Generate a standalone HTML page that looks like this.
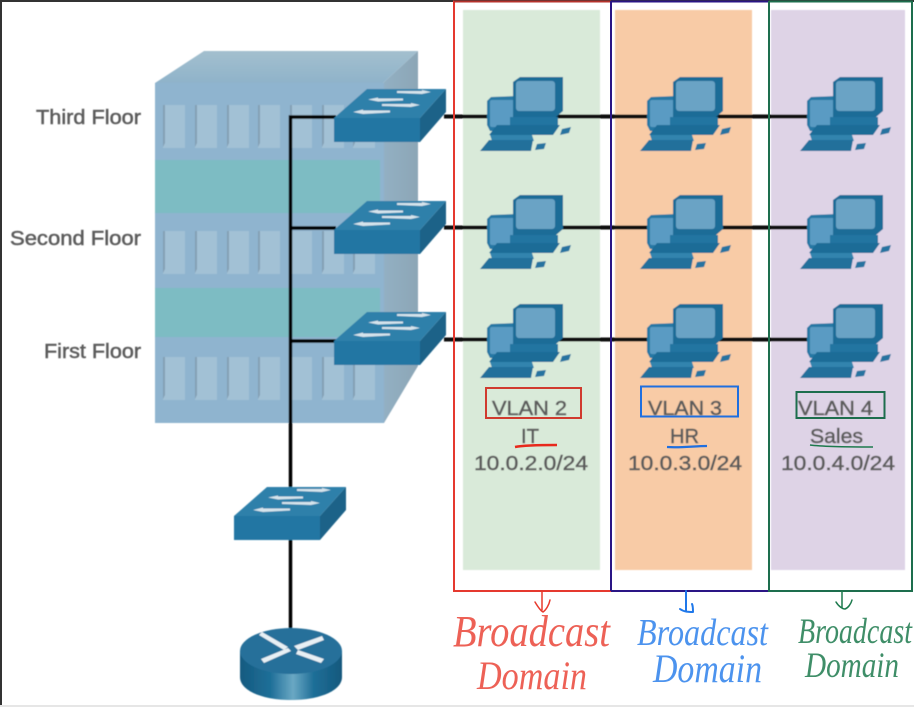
<!DOCTYPE html>
<html><head><meta charset="utf-8"><style>
html,body{margin:0;padding:0;background:#fff}
svg{display:block}
text{font-family:"Liberation Sans",sans-serif}
.hw{font-family:"Liberation Serif",serif;font-style:italic}
</style></head><body>
<svg width="914" height="707" viewBox="0 0 914 707" xmlns="http://www.w3.org/2000/svg">
<defs>
<filter id="b" x="-5%" y="-5%" width="110%" height="110%"><feGaussianBlur stdDeviation="0.6"/></filter>
<linearGradient id="top" x1="0" y1="0" x2="0" y2="1"><stop offset="0" stop-color="#a3bfce"/><stop offset="1" stop-color="#8fb3ca"/></linearGradient>
<linearGradient id="side" x1="0" y1="0" x2="1" y2="0"><stop offset="0" stop-color="#93b0c3"/><stop offset="1" stop-color="#8ca6b6"/></linearGradient>
<linearGradient id="rt" x1="0" y1="0" x2="1" y2="0"><stop offset="0" stop-color="#155a80"/><stop offset=".3" stop-color="#1f6f98"/><stop offset=".52" stop-color="#6aa8c4"/><stop offset=".72" stop-color="#1f6f98"/><stop offset="1" stop-color="#14587d"/></linearGradient>
<g id="win"><rect x="0" y="0" width="22" height="43" fill="#a2c1d5"/><polygon points="0,0 2,0 2,38 0,42" fill="#84a0b5"/></g>
<g id="row">
<use href="#win" x="163"/><use href="#win" x="195"/><use href="#win" x="227"/><use href="#win" x="258"/><use href="#win" x="290"/><use href="#win" x="322"/><use href="#win" x="353"/>
</g>
<g id="sw">
<polygon points="334,118 367,89 446,89 420,118" fill="#2f80aa"/>
<polygon points="420,118 446,89 446,112 420,142" fill="#1b6288"/>
<rect x="334" y="118" width="86" height="24" fill="#2176a3"/>
<g fill="#d6e4ec">
<polygon points="397,91 422,91 422,90 431,92 422,94 397,93"/>
<polygon points="403,98.500 378,98.500 378,97.500 368,99.500 378,101.500 403,100.500"/>
<polygon points="382,104 411,104 411,103 420,105 411,107 382,106"/>
<polygon points="390,110.500 363,110.500 363,109.500 353,112 363,114 390,112.500"/>
</g>
</g>
<g id="pc">
<polygon points="487,328 491,324 518,323 518,358 490,358 487,352" fill="#2878a4"/>
<rect x="490" y="327" width="26" height="27" rx="2" fill="#5a9bc3"/>
<polygon points="513,309 520,304 563,304 563,338 556,344 513,344" fill="#1c6c97"/>
<rect x="516" y="308" width="39" height="30" rx="3" fill="#6ba3c5"/>
<polygon points="510,344 558,344 558,352 510,352" fill="#2475a1"/>
<polygon points="497,352 560,352 553,362 489,362" fill="#1c6c97"/>
<polygon points="490,362 532,362 534,368 492,368" fill="#3384ae"/>
<polygon points="489,367 533,367 531,378 480,378" fill="#246f9b"/>
<polygon points="537,371 546,370 544,376 535,377" fill="#2573a0"/>
<polygon points="562,356 571,354 569,360 560,362" fill="#2573a0"/>
</g>
</defs>
<rect width="914" height="707" fill="#fff"/>
<g filter="url(#b)">
<!-- panels -->
<rect x="463" y="10" width="137" height="560" fill="#d9ead9"/>
<rect x="615" y="10" width="137" height="560" fill="#f8cba6"/>
<rect x="771" y="10" width="134" height="560" fill="#ded3e6"/>
<!-- building -->
<polygon points="155,83 204,51 418,51 383,83" fill="url(#top)"/>
<polygon points="383,83 418,51 418,366 384,423" fill="url(#side)"/>
<rect x="155" y="83" width="229" height="340" fill="#8fb4cf"/>
<rect x="155" y="160" width="225" height="53" fill="#7dbcc3"/>
<rect x="155" y="288" width="225" height="49" fill="#7dbcc3"/>
<use href="#row" y="105"/>
<use href="#row" y="231"/>
<use href="#row" y="357"/>
<!-- cables -->
<g stroke="#050505" stroke-width="3.500" fill="none">
<path d="M290.500 628V117H336"/>
<path d="M290 228H336"/>
<path d="M290 341H336"/>
</g>
<g stroke="#0d0d0d" stroke-width="4" fill="none">
<path d="M444 116.500H810"/>
<path d="M444 227.500H810"/>
<path d="M444 339.500H810"/>
</g>
<!-- switches -->
<use href="#sw"/>
<use href="#sw" y="112"/>
<use href="#sw" y="223"/>
<use href="#sw" x="-100" y="398"/>
<!-- router -->
<path d="M240 651V677C240 691 263 700 291 700C319 700 342 691 342 677V651Z" fill="url(#rt)"/>
<ellipse cx="291" cy="651" rx="51" ry="23" fill="#26709a"/>
<g fill="#e8f0f4">
<polygon points="259,635 262,632 288,647 284,650"/>
<polygon points="322,636 324,640 298,650 294,646"/>
<polygon points="261,659 288,648 291,651 264,663"/>
<polygon points="324,659 321,663 296,654 298,650"/>
</g>
<!-- PCs -->
<use href="#pc" y="-227"/><use href="#pc" x="160" y="-227"/><use href="#pc" x="320" y="-227"/>
<use href="#pc" y="-109"/><use href="#pc" x="160" y="-109"/><use href="#pc" x="320" y="-109"/>
<use href="#pc"/><use href="#pc" x="160"/><use href="#pc" x="320"/>
<!-- labels -->
<g fill="#5c5c5c" stroke="#5c5c5c" stroke-width="0.500" font-size="20">
<text x="36" y="124" textLength="105" lengthAdjust="spacingAndGlyphs">Third Floor</text>
<text x="10" y="245" textLength="131" lengthAdjust="spacingAndGlyphs">Second Floor</text>
<text x="44" y="358" textLength="97" lengthAdjust="spacingAndGlyphs">First Floor</text>
<text x="492" y="415" textLength="75" lengthAdjust="spacingAndGlyphs">VLAN 2</text>
<text x="648" y="415" textLength="74" lengthAdjust="spacingAndGlyphs">VLAN 3</text>
<text x="798" y="415" textLength="75" lengthAdjust="spacingAndGlyphs">VLAN 4</text>
<text x="521" y="443" textLength="18" lengthAdjust="spacingAndGlyphs">IT</text>
<text x="670" y="443" textLength="29" lengthAdjust="spacingAndGlyphs">HR</text>
<text x="810" y="443" textLength="53" lengthAdjust="spacingAndGlyphs">Sales</text>
<text x="474" y="470" textLength="114" lengthAdjust="spacingAndGlyphs">10.0.2.0/24</text>
<text x="628" y="470" textLength="114" lengthAdjust="spacingAndGlyphs">10.0.3.0/24</text>
<text x="781" y="470" textLength="114" lengthAdjust="spacingAndGlyphs">10.0.4.0/24</text>
</g>
</g>
<!-- window edges -->
<rect x="0" y="0" width="914" height="2" fill="#333"/>
<rect x="0" y="0" width="2" height="707" fill="#333"/>
<rect x="0" y="705" width="914" height="2" fill="#e6e6e6"/>
<!-- domain boxes -->
<g fill="none" stroke-width="2">
<path d="M611 1.500H454V591H611" stroke="#e5392f"/>
<path d="M454 1.500H611" stroke="#b5332c"/>
<path d="M611 1.500H769M611 591H769M611 1V591" stroke="#2a1585"/>
<path d="M769 1.500H912V591H769V1" stroke="#1d6e4d"/>
</g>
<!-- VLAN boxes -->
<g fill="none" stroke-width="2">
<rect x="486" y="388" width="95" height="30" stroke="#d03a2e"/>
<rect x="641" y="386.500" width="97" height="30" stroke="#1f6fe0"/>
<rect x="796.500" y="392" width="88" height="26" stroke="#1d6e4d"/>
</g>
<!-- underlines -->
<path d="M515 447C525 445 545 445 557 445" stroke="#e8291c" stroke-width="2.500" fill="none"/>
<path d="M667 447C680 448 695 446 707 446" stroke="#1f6fe0" stroke-width="2.200" fill="none"/>
<path d="M810 445C825 447 855 447 873 447" stroke="#1d7a4d" stroke-width="1.600" fill="none"/>
<!-- arrows -->
<g fill="none" stroke-width="1.500" stroke-linecap="round" stroke-linejoin="round">
<path d="M542 591V610M535 602C538 607 541 611 543 612C546 610 549 605 550 600" stroke="#e8392c"/>
<path d="M686 591V611M680 609C684 612 689 612 693 612C693 609 693 606 692 604" stroke="#1f78ea" stroke-width="2"/>
<path d="M842 591V608M836 602C839 607 843 609 845 609C848 608 851 604 852 600" stroke="#1d7a4d"/>
</g>
<!-- handwriting as real text -->
<g>
<text class="hw" x="453" y="646" font-size="44" fill="#e8392c" fill-opacity=".8" textLength="157" lengthAdjust="spacingAndGlyphs">Broadcast</text>
<text class="hw" x="477" y="689" font-size="40" fill="#e8392c" fill-opacity=".8" textLength="110" lengthAdjust="spacingAndGlyphs">Domain</text>
<text class="hw" x="637" y="645" font-size="38" fill="#1f78ea" fill-opacity=".8" textLength="131" lengthAdjust="spacingAndGlyphs">Broadcast</text>
<text class="hw" x="653" y="682" font-size="40" fill="#1f78ea" fill-opacity=".8" textLength="109" lengthAdjust="spacingAndGlyphs">Domain</text>
<text class="hw" x="798" y="643" font-size="36" fill="#1d7a4d" fill-opacity=".85" textLength="114" lengthAdjust="spacingAndGlyphs">Broadcast</text>
<text class="hw" x="805" y="677" font-size="36" fill="#1d7a4d" fill-opacity=".85" textLength="94" lengthAdjust="spacingAndGlyphs">Domain</text>
</g>
</svg>
</body></html>
